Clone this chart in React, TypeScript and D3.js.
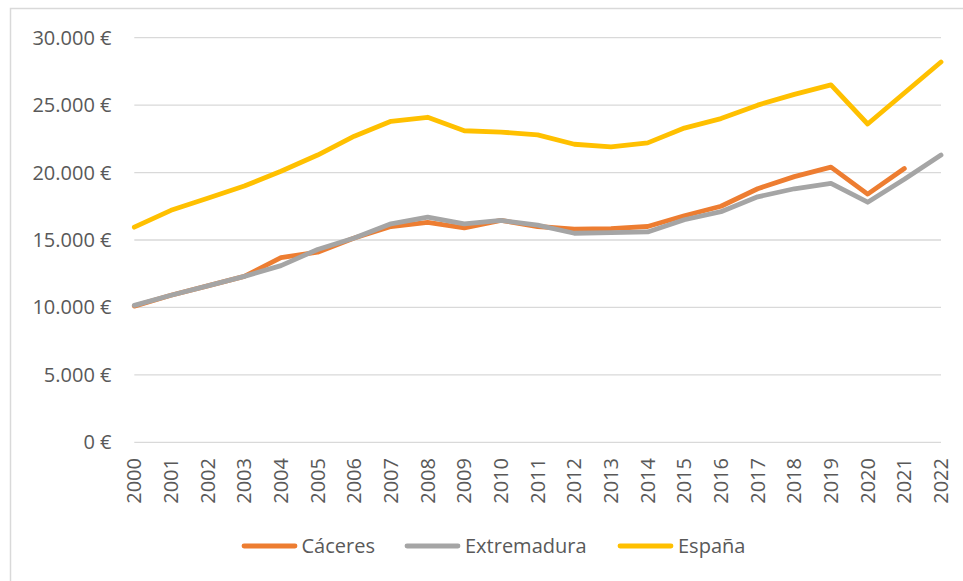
import React from "react";
import * as d3 from "d3";

const years = d3.range(2000, 2023).map(String);
const caceres = [10100, 10900, 11600, 12300, 13700, 14100, 15150, 16000, 16300, 15900, 16450, 16000, 15800, 15850, 16000, 16800, 17500, 18800, 19700, 20400, 18400, 20300, null];
const extremadura = [10150, 10900, 11600, 12300, 13100, 14300, 15150, 16200, 16700, 16200, 16450, 16100, 15500, 15550, 15600, 16500, 17100, 18200, 18800, 19200, 17800, 19500, 21300];
const espana = [15950, 17200, 18100, 19000, 20100, 21300, 22700, 23800, 24100, 23100, 23000, 22800, 22100, 21900, 22200, 23300, 24000, 25000, 25800, 26500, 23600, 25900, 28200];
const yTicks = [0, 5000, 10000, 15000, 20000, 25000, 30000];
const seriesNames = ["Cáceres", "Extremadura", "España"];
const colors = ["#ED7D31", "#A5A5A5", "#FFC000"];

const W = 963, H = 581;
const left = 134.3, right = 941, top = 37.7, bottom = 442.3;
const font = "'Open Sans', 'Noto Sans', sans-serif";
const txt = "#595959";

export default function App() {
  const x = d3.scalePoint<string>().domain(years).range([left, right]);
  const y = d3.scaleLinear().domain([0, 30000]).range([bottom, top]);
  const fmt = (v: number) => d3.format(",")(v).replace(/,/g, ".") + " €";
  const line = d3
    .line<number | null>()
    .defined((d) => d !== null)
    .x((_, i) => x(years[i]) as number)
    .y((d) => y(d as number));
  const data = [caceres, extremadura, espana];
  const legendItems = [
    { mx: 242, tx: 301.5 },
    { mx: 405, tx: 465 },
    { mx: 618, tx: 678 },
  ];
  return (
    <svg width={W} height={H} style={{ position: "absolute", left: 0, top: 0, background: "#fff" }}>
      <rect x={10.5} y={8.5} width={1000} height={700} fill="#fff" stroke="#D9D9D9" strokeWidth={1.5} />
      {yTicks.map((t) => (
        <g key={t}>
          <line x1={left} x2={right} y1={y(t)} y2={y(t)} stroke="#D9D9D9" strokeWidth={1.3} />
          <text x={111.5} y={y(t)} dy="0.35em" textAnchor="end" fontFamily={font} fontSize={20} fill={txt}>
            {fmt(t)}
          </text>
        </g>
      ))}
      {years.map((yr) => (
        <text
          key={yr}
          transform={`translate(${x(yr)},${458}) rotate(-90)`}
          textAnchor="end"
          dy="0.35em"
          fontFamily={font}
          fontSize={20}
          fill={txt}
        >
          {yr}
        </text>
      ))}
      {data.map((s, i) => (
        <path key={i} d={line(s) || ""} fill="none" stroke={colors[i]} strokeWidth={4.8} strokeLinejoin="round" strokeLinecap="round" />
      ))}
      {legendItems.map((l, i) => (
        <g key={i}>
          <line x1={l.mx + 2} x2={l.mx + 53} y1={546} y2={546} stroke={colors[i]} strokeWidth={4.8} strokeLinecap="round" />
          <text x={l.tx} y={546} dy="0.35em" fontFamily={font} fontSize={20} fill={txt}>
            {seriesNames[i]}
          </text>
        </g>
      ))}
    </svg>
  );
}
